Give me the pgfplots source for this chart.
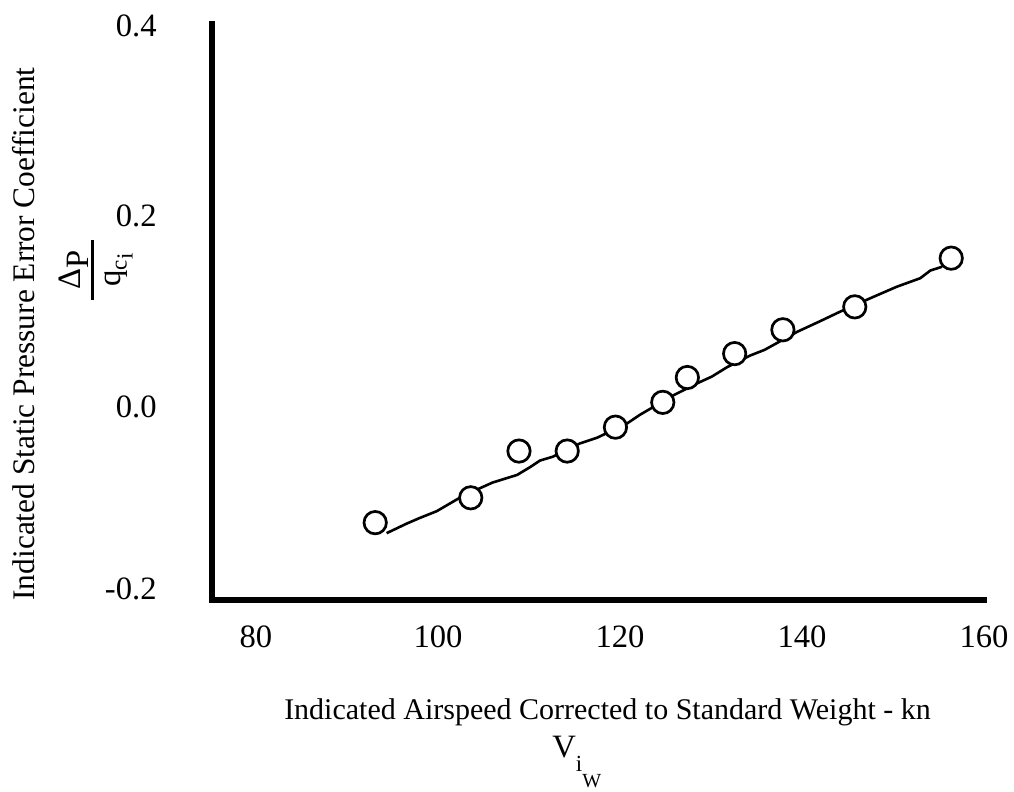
\documentclass[border=0pt]{standalone}
\usepackage{pgfplots}
\pgfplotsset{compat=1.18}
\usepackage{fontspec}
\setmainfont{Liberation Serif}

\newcommand{\lblfont}{\fontsize{15}{18}\selectfont}
\newcommand{\tickfont}{\fontsize{16.3}{19}\selectfont}

\begin{document}
\begin{tikzpicture}
\begin{axis}[
    scale only axis,
    width=386pt, height=288pt,
    xmin=75.165, xmax=160,
    ymin=-0.199, ymax=0.4042,
    axis x line*=bottom,
    axis y line*=left,
    axis line style={line width=2.6pt, line cap=rect},
    xtick={80,100,120,140,160},
    xticklabels={80,100,120,140,160},
    ytick={-0.1906,0,0.2,0.4},
    yticklabels={-0.2,0.0,0.2,0.4},
    major tick length=0pt,
    tick label style={font=\tickfont, inner sep=0pt},
    xticklabel style={anchor=base, yshift=-24pt},
    yticklabel style={anchor=base east, xshift=-27.5pt, yshift=-4pt},
    clip=false,
]
\coordinate (o) at (axis cs:75.165,-0.199);

% hand-faired curve through the points
\addplot[black, line width=1.3pt, line join=round] coordinates {
    (94.36,-0.129)(96.56,-0.119)(98.02,-0.113)(99.86,-0.106)(102.2,-0.093)
    (104.6,-0.082)(106.0,-0.076)(108.7,-0.068)(110.1,-0.060)(111.2,-0.053)
    (112.6,-0.049)(115.6,-0.035)(117.5,-0.029)(120.8,-0.014)(122.2,-0.005)
    (125.8,0.015)(128.5,0.028)(130.1,0.035)(131.8,0.045)(134.3,0.057)
    (135.9,0.063)(139.5,0.082)(142.0,0.093)(144.2,0.103)(147.5,0.117)
    (150.4,0.129)(153.0,0.138)(154.1,0.146)(155.4,0.150)
};

% test points
\addplot[only marks, mark=*, mark size=5.6pt,
    mark options={draw=black, fill=white, line width=1.35pt}] coordinates {
    (93.1,-0.118)(103.6,-0.092)(108.9,-0.043)(114.2,-0.043)(119.5,-0.018)
    (124.7,0.008)(127.4,0.034)(132.6,0.059)(137.9,0.084)(145.8,0.108)
    (156.4,0.159)
};

\node[font=\lblfont, anchor=base] at (axis cs:118.63,-0.3246)
    {Indicated Airspeed Corrected to Standard Weight - kn};
\node[font=\tickfont, anchor=base west, inner sep=0pt] at (axis cs:112.53,-0.3644)
    {V\raisebox{-7pt}{\fontsize{11.5}{11.5}\selectfont i\raisebox{-8pt}{\fontsize{10}{10}\selectfont W}}};

\node[font=\fontsize{15.7}{18}\selectfont, rotate=90] at (axis cs:54.5,0.0796)
    {Indicated Static Pressure Error Coefficient};
\node[font=\tickfont, rotate=90, inner sep=0pt] at (axis cs:62.09,0.1466)
    {\setlength{\arrayrulewidth}{1.3pt}%
     \begin{tabular}{@{}c@{}}
     \makebox[30pt]{Δ\raisebox{-4pt}{P}}\\\hline
     q\raisebox{-3pt}{\fontsize{11.5}{11.5}\selectfont c\raisebox{-3pt}{i}}
     \end{tabular}};
\end{axis}
\pgfresetboundingbox
\path[use as bounding box] (o) ++(-106pt,-96pt) rectangle ++(507pt,396pt);
\end{tikzpicture}
\end{document}
